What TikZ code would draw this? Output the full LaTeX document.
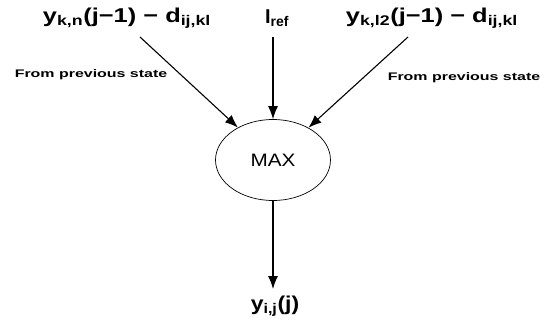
\documentclass[tikz,border=0pt]{standalone}
\usepackage{fontspec}
\setmainfont{Liberation Sans}
\usetikzlibrary{arrows.meta,shapes.geometric}
\newcommand{\sbx}[1]{\textsubscript{#1}}
\begin{document}
\begin{tikzpicture}[x=1pt,y=-1pt,
  lbl/.style={font=\bfseries\fontsize{20}{22}\selectfont, inner sep=0pt},
  small/.style={font=\bfseries\fontsize{11}{12}\selectfont, inner sep=0pt},
  arr/.style={line width=1.1pt, -{Latex[length=13pt,width=10pt]}}]
\useasboundingbox (0,0) rectangle (548,324);
\node[lbl] (l) at (127,18) {\scalebox{1.27}[1]{y\sbx{k,n}(j−1) − d\sbx{ij,kl}}};
\node[lbl] (r) at (432,18) {\scalebox{1.27}[1]{y\sbx{k,l2}(j−1) − d\sbx{ij,kl}}};
\node[lbl] (m) at (277,18) {I\sbx{ref}};
\coordinate (ls) at (140,37);
\coordinate (ms) at (273,37);
\coordinate (rs) at (408,37);
\node[small] (fl) at (91,75) {\scalebox{1.45}[1]{From previous state}};
\node[small] (fr) at (464,78) {\scalebox{1.45}[1]{From previous state}};
\node[draw, ellipse, line width=0.7pt, minimum width=115pt, minimum height=81pt, inner sep=0pt,
      font=\fontsize{18}{20}\selectfont] (max) at (273,160) {\scalebox{1.15}[1]{MAX}};
\node[lbl] (out) at (275,306) {\scalebox{1.15}[1]{y\sbx{i,j}(j)}};
\coordinate (oe) at (273,289);
\draw[arr] (ls) -- (max);
\draw[arr] (ms) -- (max.north -| ms);
\draw[arr] (rs) -- (max);
\draw[arr] (max.south) -- (oe);
\end{tikzpicture}
\end{document}
